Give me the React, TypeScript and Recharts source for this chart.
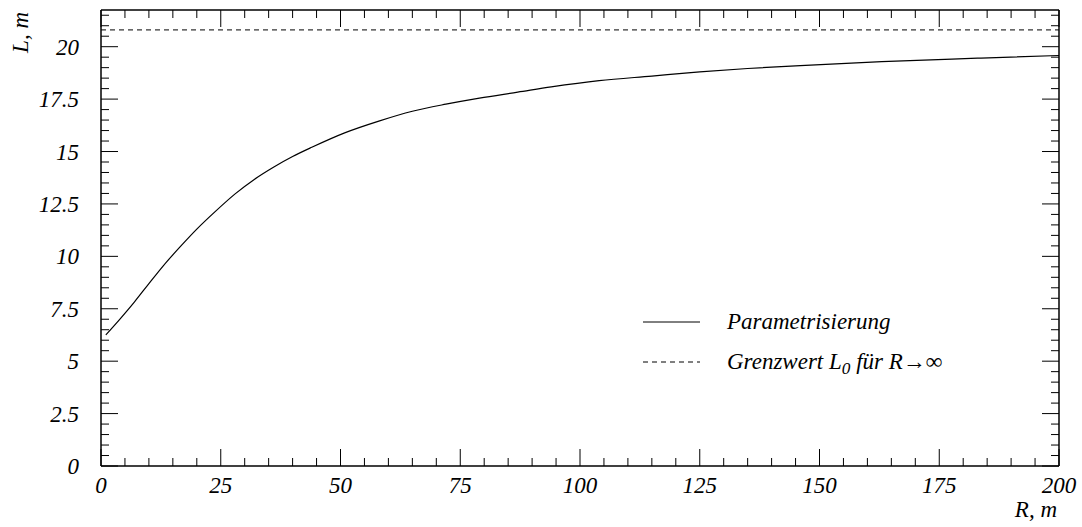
import React from 'react';
import { LineChart, Line, XAxis, YAxis, ReferenceLine, Legend } from 'recharts';

// Data
const rValues = [1, 4, 7, 10, 13, 16.5, 20, 24, 28, 32, 36, 40, 44, 51, 58, 65, 72, 79, 87, 94, 104, 115, 125, 135, 146, 163, 183, 200];
const lValues = [6.25, 7.02, 7.83, 8.7, 9.55, 10.45, 11.3, 12.17, 12.98, 13.67, 14.25, 14.76, 15.2, 15.9, 16.45, 16.92, 17.26, 17.55, 17.83, 18.08, 18.38, 18.6, 18.8, 18.96, 19.1, 19.29, 19.45, 19.58];
const L0 = 20.8;

const xMajorTicks = [0, 25, 50, 75, 100, 125, 150, 175, 200];
const xTickLabels = ['0', '25', '50', '75', '100', '125', '150', '175', '200'];
const yMajorTicks = [0, 2.5, 5, 7.5, 10, 12.5, 15, 17.5, 20];
const yTickLabels = ['0', '2.5', '5', '7.5', '10', '12.5', '15', '17.5', '20'];
const xMinorStep = 5;
const yMinorStep = 0.5;
const xDomain: [number, number] = [0, 200];
const yDomain: [number, number] = [0, 21.75];

const seriesNames = ['Parametrisierung', 'Grenzwert'];

const data = rValues.map((r, i) => ({ R: r, L: lValues[i] }));

const xTicks: number[] = [];
for (let v = xDomain[0]; v <= xDomain[1] + 1e-9; v += xMinorStep) xTicks.push(v);
const yTicks: number[] = [];
for (let i = 0; i * yMinorStep <= yDomain[1] + 1e-9; i++) yTicks.push(i * yMinorStep);

const FONT = '"Liberation Serif", "Times New Roman", serif';
const FS = 23;
const MAJOR = 17;
const MINOR = 8;

const isXMajor = (v: number) => xMajorTicks.some((m) => Math.abs(m - v) < 1e-6);
const isYMajor = (v: number) => yMajorTicks.some((m) => Math.abs(m - v) < 1e-6);
const xLabel = (v: number) => xTickLabels[xMajorTicks.findIndex((m) => Math.abs(m - v) < 1e-6)];
const yLabel = (v: number) => yTickLabels[yMajorTicks.findIndex((m) => Math.abs(m - v) < 1e-6)];

const BottomTick = (props: any) => {
  const { x, y, payload } = props;
  const major = isXMajor(payload.value);
  return (
    <g>
      <line x1={x} x2={x} y1={y} y2={y - (major ? MAJOR : MINOR)} stroke="#000" strokeWidth={1} />
      {major && (
        <text x={x} y={y + 27} textAnchor="middle" fontFamily={FONT} fontStyle="italic" fontSize={FS} fill="#000">
          {xLabel(payload.value)}
        </text>
      )}
    </g>
  );
};

const TopTick = (props: any) => {
  const { x, y, payload } = props;
  const major = isXMajor(payload.value);
  return <line x1={x} x2={x} y1={y} y2={y + (major ? MAJOR : MINOR)} stroke="#000" strokeWidth={1} />;
};

const LeftTick = (props: any) => {
  const { x, y, payload } = props;
  const major = isYMajor(payload.value);
  return (
    <g>
      <line x1={x} x2={x + (major ? MAJOR : MINOR)} y1={y} y2={y} stroke="#000" strokeWidth={1} />
      {major && (
        <text x={x - 22} y={y + 8} textAnchor="end" fontFamily={FONT} fontStyle="italic" fontSize={FS} fill="#000">
          {yLabel(payload.value)}
        </text>
      )}
    </g>
  );
};

const RightTick = (props: any) => {
  const { x, y, payload } = props;
  const major = isYMajor(payload.value);
  return <line x1={x} x2={x - (major ? MAJOR : MINOR)} y1={y} y2={y} stroke="#000" strokeWidth={1} />;
};

const XTitle = () => (
  <text x={1057} y={517} textAnchor="end" fontFamily={FONT} fontStyle="italic" fontSize={FS} fill="#000">
    R, m
  </text>
);

const YTitle = () => (
  <text
    x={0}
    y={0}
    transform="translate(28,12) rotate(-90)"
    textAnchor="end"
    fontFamily={FONT}
    fontStyle="italic"
    fontSize={FS}
    fill="#000"
  >
    L, m
  </text>
);

const LegendContent = () => {
  const rowStyle: React.CSSProperties = { display: 'flex', alignItems: 'center', height: 40 };
  const textStyle: React.CSSProperties = {
    fontFamily: FONT,
    fontStyle: 'italic',
    fontSize: FS,
    color: '#000',
    marginLeft: 27,
    whiteSpace: 'nowrap',
  };
  return (
    <div>
      <div style={rowStyle}>
        <svg width={57} height={10}>
          <line x1={0} x2={57} y1={5} y2={5} stroke="#000" strokeWidth={1} />
        </svg>
        <span style={textStyle}>{seriesNames[0]}</span>
      </div>
      <div style={rowStyle}>
        <svg width={57} height={10}>
          <line x1={0} x2={57} y1={5} y2={5} stroke="#000" strokeWidth={1} strokeDasharray="5 4" />
        </svg>
        <span style={textStyle}>
          {seriesNames[1]} L
          <span style={{ fontSize: '0.75em', position: 'relative', top: '0.3em' }}>0</span> für R→∞
        </span>
      </div>
    </div>
  );
};

export default function App() {
  return (
    <div style={{ position: 'absolute', left: 0, top: 0, width: 1082, height: 527, background: '#fff' }}>
      <LineChart width={1082} height={527} data={data} margin={{ top: 0, right: 0, bottom: 0, left: 0 }}>
        <XAxis
          xAxisId="b"
          dataKey="R"
          type="number"
          orientation="bottom"
          domain={xDomain}
          allowDataOverflow
          ticks={xTicks}
          interval={0}
          height={61}
          tickSize={0}
          tickMargin={0}
          tickLine={false}
          axisLine={{ stroke: '#000', strokeWidth: 1.5 }}
          tick={BottomTick}
          label={{ content: XTitle }}
        />
        <XAxis
          xAxisId="t"
          dataKey="R"
          type="number"
          orientation="top"
          domain={xDomain}
          allowDataOverflow
          ticks={xTicks}
          interval={0}
          height={10}
          tickSize={0}
          tickMargin={0}
          tickLine={false}
          axisLine={{ stroke: '#000', strokeWidth: 1.5 }}
          tick={TopTick}
        />
        <YAxis
          yAxisId="l"
          type="number"
          orientation="left"
          domain={yDomain}
          allowDataOverflow
          ticks={yTicks}
          interval={0}
          width={101}
          tickSize={0}
          tickMargin={0}
          tickLine={false}
          axisLine={{ stroke: '#000', strokeWidth: 1.5 }}
          tick={LeftTick}
          label={{ content: YTitle }}
        />
        <YAxis
          yAxisId="r"
          type="number"
          orientation="right"
          domain={yDomain}
          allowDataOverflow
          ticks={yTicks}
          interval={0}
          width={23}
          tickSize={0}
          tickMargin={0}
          tickLine={false}
          axisLine={{ stroke: '#000', strokeWidth: 1.5 }}
          tick={RightTick}
        />
        <ReferenceLine xAxisId="b" yAxisId="l" y={L0} stroke="#000" strokeWidth={1} strokeDasharray="5 4" />
        <Line
          xAxisId="b"
          yAxisId="l"
          type="monotone"
          dataKey="L"
          stroke="#000"
          strokeWidth={1.2}
          dot={false}
          isAnimationActive={false}
        />
        <Legend
          layout="vertical"
          align="center"
          verticalAlign="middle"
          content={LegendContent}
          wrapperStyle={{ left: 643, top: 302, width: 420, height: 80 }}
        />
      </LineChart>
    </div>
  );
}
